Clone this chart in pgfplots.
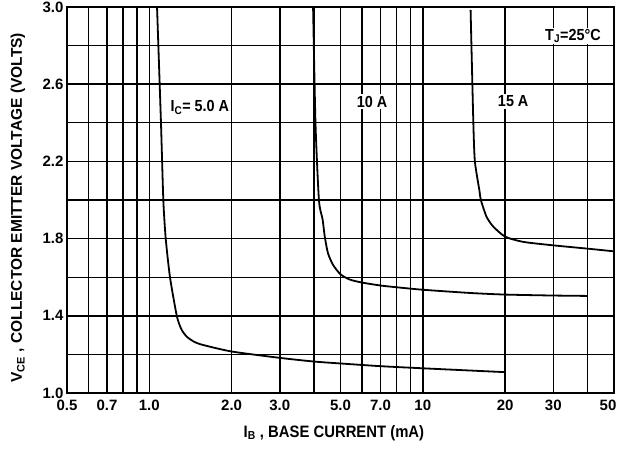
\documentclass[border=0pt]{standalone}
\usepackage{fontspec}
\setmainfont{Liberation Sans}
\newfontfamily\sq{Liberation Sans}[FakeStretch=0.9]
\usepackage{pgfplots}
\pgfplotsset{compat=1.18}
\begin{document}
\begin{tikzpicture}
\useasboundingbox (-67pt,-57pt) rectangle (551pt,393pt);
\begin{axis}[
  scale only axis, width=547pt, height=386pt, at={(0pt,0pt)}, anchor=south west,
  xmode=log, xmin=0.5, xmax=50, ymin=1, ymax=3,
  xtick={0.5,0.7,1,2,3,5,7,10,20,30,50},
  xticklabels={0.5,0.7,1.0,2.0,3.0,5.0,7.0,10,20,30,{\hspace*{-12pt}50}},
  minor xtick={0.6,0.8,0.9,4,6,8,9,40},
  ytick={1,1.4,1.8,2.2,2.6,3},
  yticklabels={1.0,1.4,1.8,2.2,2.6,3.0},
  minor ytick={1.2,1.6,2,2.4,2.8},
  grid=both,
  grid style={black, line width=1.4pt},
  major grid style={black, line width=1.4pt},
  minor grid style={black, line width=1.4pt},
  major tick length=0pt, minor tick length=0pt,
  axis line style={black, line width=1.4pt},
  ticklabel style={font=\bfseries\fontsize{15}{17}\selectfont},
  xticklabel style={yshift=-3pt},
  every axis x label/.style={at={(axis description cs:0.488,-0.1036)}, anchor=center},
  every axis y label/.style={at={(axis description cs:-0.0896,0.48)}, rotate=90, anchor=center},
  label style={font=\bfseries\fontsize{15.5}{18}\selectfont},
  xlabel={\sq\fontsize{16.5}{18}\selectfont I\textsubscript{B} , BASE CURRENT (mA)},
  ylabel={V\textsubscript{CE} , COLLECTOR EMITTER VOLTAGE (VOLTS)},
]
\node[fill=white, inner sep=1.5pt, font=\sq\bfseries\fontsize{16}{18}\selectfont] at (axis cs:1.53,2.48) {I\textsubscript{C}= 5.0 A};
\node[fill=white, inner sep=1.5pt, font=\sq\bfseries\fontsize{16}{18}\selectfont] at (axis cs:6.52,2.51) {10 A};
\node[fill=white, inner sep=1.5pt, font=\sq\bfseries\fontsize{16}{18}\selectfont] at (axis cs:21.4,2.51) {15 A};
\node[fill=white, inner sep=1.5pt, font=\sq\bfseries\fontsize{16}{18}\selectfont] at (axis cs:35.4,2.85) {T\textsubscript{J}=25°C};
% I_C = 5.0 A
\addplot[black, line width=1.8pt, smooth, tension=0.4] coordinates {
(1.067,3.0) (1.103,2.4) (1.125,2.0) (1.148,1.8) (1.19,1.6) (1.26,1.4) (1.31,1.33) (1.37,1.292) (1.46,1.265) (1.57,1.249) (2.0,1.215) (3,1.182) (4,1.163) (5,1.153) (7,1.139) (10,1.128) (20,1.108)
};
% I_C = 10 A
\addplot[black, line width=1.8pt, smooth, tension=0.4] coordinates {
(3.97,3.0) (4.05,2.4) (4.17,2.0) (4.3,1.9) (4.38,1.81) (4.5,1.724) (4.7,1.663) (5.0,1.615) (5.4,1.588) (6,1.572) (7,1.557) (8,1.548) (10,1.535) (15,1.518) (20,1.51) (30,1.505) (40,1.503)
};
% I_C = 15 A
\addplot[black, line width=1.8pt, smooth, tension=0.4] coordinates {
(14.95,2.985) (15.3,2.4) (15.5,2.2) (16.1,2.05) (16.3,2.0) (17.1,1.913) (18.1,1.862) (20,1.81) (23.3,1.783) (30,1.765) (40,1.748) (50,1.734)
};
\end{axis}
\end{tikzpicture}
\end{document}
